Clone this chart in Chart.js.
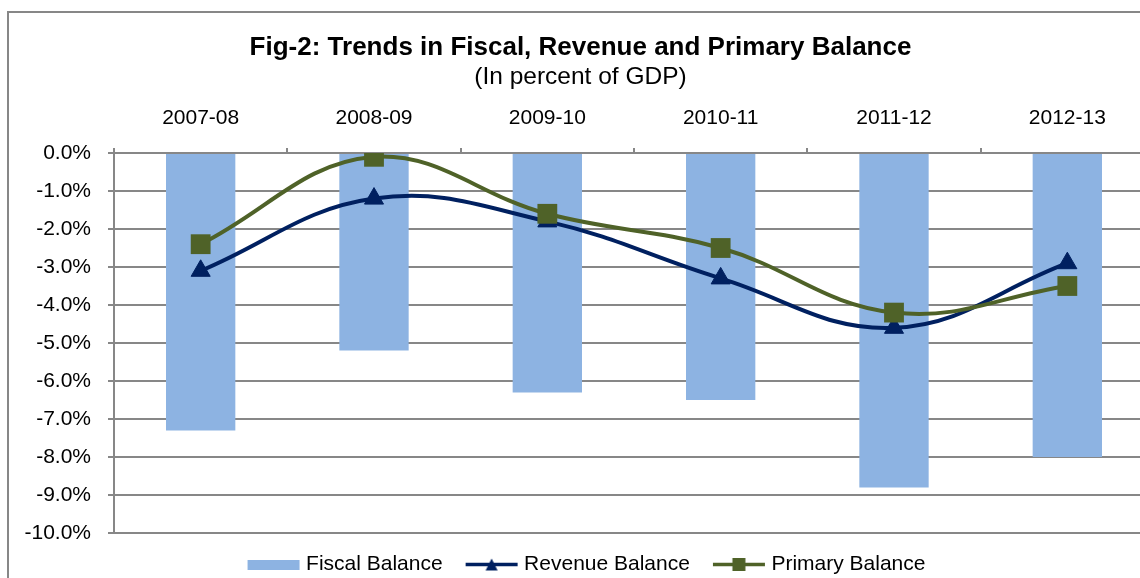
<!DOCTYPE html>
<html>
<head>
<meta charset="utf-8">
<script src="https://cdn.jsdelivr.net/npm/chart.js@4"></script>
<style>
  html, body { margin: 0; padding: 0; background: #fff; overflow: hidden; }
  canvas { display: block; }
</style>
</head>
<body>
<canvas id="fiscalChart" width="1162" height="590"></canvas>
<script>
const years = ["2007-08", "2008-09", "2009-10", "2010-11", "2011-12", "2012-13"];
const fiscalBalance = [-7.3, -5.2, -6.3, -6.5, -8.8, -8.0];
const revenueBalance = [-3.1, -1.2, -1.8, -3.3, -4.6, -2.9];
const primaryBalance = [-2.4, -0.1, -1.6, -2.5, -4.2, -3.5];
const yTicks = [0, -1, -2, -3, -4, -5, -6, -7, -8, -9, -10];

const barColor = "#8DB3E2";
const revenueColor = "#002060";
const primaryColor = "#4F6228";
const gridColor = "#878787";

Chart.defaults.font.family = "'Liberation Sans', Arial, sans-serif";
Chart.defaults.color = "#000";

// legend symbols: 60px wide images, the visible symbol sits at x 7..59
const legendIcon = (kind, color) => {
  const c = document.createElement("canvas");
  c.width = 60;
  c.height = 21;
  const ctx = c.getContext("2d");
  ctx.fillStyle = color;
  ctx.strokeStyle = color;
  if (kind === "box") {
    ctx.fillRect(7, 6, 52, 10);
    return c;
  }
  ctx.lineWidth = 3.5;
  ctx.beginPath();
  ctx.moveTo(7, 10.5);
  ctx.lineTo(59, 10.5);
  ctx.stroke();
  ctx.beginPath();
  if (kind === "triangle") {
    ctx.moveTo(33, 4.5);
    ctx.lineTo(39, 16.5);
    ctx.lineTo(27, 16.5);
    ctx.closePath();
  } else {
    ctx.rect(26.5, 4, 13, 13);
  }
  ctx.fill();
  return c;
};

const icons = [
  legendIcon("box", barColor),
  legendIcon("triangle", revenueColor),
  legendIcon("square", primaryColor),
];

const framePlugin = {
  id: "frame",
  afterLayout(chart) {
    // nudge the legend a little to the right, as in the original
    chart.legend.left += 5;
    chart.legend.right += 5;
  },
  beforeDraw(chart) {
    const ctx = chart.ctx;
    ctx.save();
    ctx.strokeStyle = gridColor;
    ctx.lineWidth = 2;
    ctx.strokeRect(8, 12, 1300, 700);
    ctx.restore();
  },
};

const data = {
  labels: years,
  datasets: [
    {
      type: "bar",
      label: "Fiscal Balance",
      data: fiscalBalance,
      backgroundColor: barColor,
      barPercentage: 0.4,
      categoryPercentage: 1,
      order: 3,
    },
    {
      type: "line",
      label: "Revenue Balance",
      data: revenueBalance,
      borderColor: revenueColor,
      backgroundColor: revenueColor,
      borderWidth: 4,
      tension: 0.4,
      pointStyle: "triangle",
      pointRadius: 11,
      pointBorderWidth: 1,
      order: 2,
    },
    {
      type: "line",
      label: "Primary Balance",
      data: primaryBalance,
      borderColor: primaryColor,
      backgroundColor: primaryColor,
      borderWidth: 4,
      tension: 0.4,
      pointStyle: "rect",
      pointRadius: 14,
      pointBorderWidth: 0,
      order: 1,
    },
  ],
};

const config = {
  data: data,
  plugins: [framePlugin],
  options: {
    responsive: false,
    animation: false,
    devicePixelRatio: 1,
    layout: { autoPadding: false, padding: { top: 12, left: 7, right: 8, bottom: 5 } },
    plugins: {
      title: {
        display: true,
        text: "Fig-2: Trends in Fiscal, Revenue and Primary Balance",
        font: { size: 26, weight: "bold", lineHeight: 1 },
        color: "#000",
        padding: { top: 23, bottom: 0 },
      },
      subtitle: {
        display: true,
        text: "(In percent of GDP)",
        font: { size: 24.5, lineHeight: 1 },
        color: "#000",
        padding: { top: 3.75, bottom: 0 },
      },
      legend: {
        position: "bottom",
        labels: {
          usePointStyle: true,
          pointStyleWidth: 50,
          padding: 21,
          font: { size: 21 },
          generateLabels: (chart) =>
            chart.data.datasets.map((ds, i) => ({
              text: ds.label,
              pointStyle: icons[i],
              fillStyle: "transparent",
              strokeStyle: "transparent",
              lineWidth: 0,
              datasetIndex: i,
            })),
        },
      },
      tooltip: { enabled: false },
    },
    scales: {
      x: {
        position: "top",
        offset: true,
        afterFit: (scale) => {
          scale.height = 63.75;
        },
        grid: {
          offset: true,
          drawOnChartArea: false,
          tickLength: 5,
          color: gridColor,
          lineWidth: 2,
        },
        border: { color: gridColor, width: 2 },
        ticks: { padding: 17.4, font: { size: 21 }, maxRotation: 0 },
      },
      y: {
        min: -10,
        max: 0,
        afterFit: (scale) => {
          scale.width = 107;
        },
        afterBuildTicks: (scale) => {
          scale.ticks = yTicks.map((v) => ({ value: v }));
        },
        grid: { color: gridColor, lineWidth: 2, tickLength: 6 },
        border: { color: gridColor, width: 2 },
        ticks: {
          padding: 17,
          font: { size: 21 },
          callback: (v) => v.toFixed(1) + "%",
        },
      },
    },
  },
};

new Chart(document.getElementById("fiscalChart"), config);
</script>
</body>
</html>
